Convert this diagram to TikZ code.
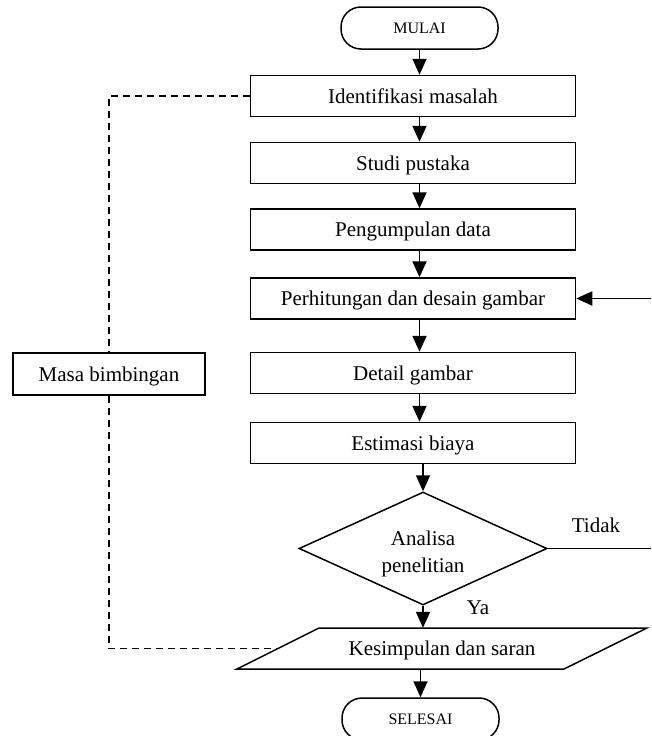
\documentclass[tikz,border=0pt]{standalone}
\usepackage{fontspec}
\setmainfont{Liberation Serif}
\usetikzlibrary{arrows.meta, calc, positioning, shapes.geometric}
\tikzset{
  procbox/.style = {draw, line width=1.5pt, minimum width=325pt, minimum height=41pt, inner sep=0pt, text depth=0pt, font=\fontsize{21}{27}\selectfont},
  terminal/.style = {draw, line width=1.5pt, rounded corners=20pt, minimum width=157pt, minimum height=42pt, inner sep=0pt, font=\fontsize{16}{19}\selectfont},
  decision/.style = {draw, diamond, aspect=2, line width=1.5pt, minimum width=248pt, minimum height=113pt, inner sep=0pt, text height=47pt, text depth=0pt, align=center, font=\fontsize{21}{27}\selectfont},
  plainlabel/.style = {inner sep=0pt, font=\fontsize{21}{27}\selectfont},
  flowarrow/.style = {line width=1.8pt, -{Triangle[length=16pt, width=14pt]}},
  guide/.style = {line width=1.5pt, dash pattern=on 7pt off 5pt}
}
\begin{document}
\begin{tikzpicture}[x=1pt, y=-1pt]
  \useasboundingbox (0,0) rectangle (651,736);
  \path (419.5,28) node[terminal] (mulai) {MULAI}
      (413,96) node[procbox] (iden) {Identifikasi masalah}
      ++(0,67) node[procbox] (studi) {Studi pustaka}
      ++(0,66.5) node[procbox] (kumpul) {Pengumpulan data}
      ++(0,69) node[procbox] (hitung) {Perhitungan dan desain gambar}
      ++(0,74.5) node[procbox] (detail) {Detail gambar}
      ++(0,70) node[procbox] (biaya) {Estimasi biaya}
      (423,548.5) node[decision] (analisa) {Analisa\\penelitian}
      (442,648.5) node[plainlabel, text depth=0pt, minimum height=41pt] (kes) {Kesimpulan dan saran}
      (420.5,719) node[terminal] (selesai) {SELESAI}
      (109,374) node[procbox, minimum width=192pt, minimum height=42pt] (masa) {Masa bimbingan};

  \node[plainlabel, anchor=base] (tidak) at (596,532) {Tidak};
  \node[plainlabel, anchor=base] (ya) at (478,614) {Ya};
  \coordinate (ulang) at (651,298.5);

  \draw[line width=1.5pt] ($(kes)+(-123,-20.5)$) -- ($(kes)+(205,-20.5)$) -- ($(kes)+(122,20.5)$) -- ($(kes)+(-205,20.5)$) -- cycle;
  \coordinate (kesleft) at ($(kes)+(-164,0)$);

  \draw[flowarrow] (mulai.south) -- (iden.north -| mulai.south);
  \draw[flowarrow] (iden.south -| mulai) -- (studi.north -| mulai);
  \draw[flowarrow] (studi.south -| mulai) -- (kumpul.north -| mulai);
  \draw[flowarrow] (kumpul.south -| mulai) -- (hitung.north -| mulai);
  \draw[flowarrow] (hitung.south -| mulai) -- (detail.north -| mulai);
  \draw[flowarrow] (detail.south -| mulai) -- (biaya.north -| mulai);
  \draw[flowarrow] (biaya.south -| analisa) -- (analisa.north);
  \draw[flowarrow] (analisa.south) -- (analisa.south |- kes.north);
  \draw[flowarrow] (kes.south -| selesai) -- (selesai.north);
  \draw[flowarrow] (ulang) -- (hitung.east);
  \draw[line width=1.8pt] (analisa.east) -- (analisa.east -| ulang);

  \draw[guide] (iden.west) -- (iden.west -| masa) -- (masa.north);
  \draw[guide] (masa.south) -- (masa.south |- kesleft) -- (kesleft);
\end{tikzpicture}
\end{document}
